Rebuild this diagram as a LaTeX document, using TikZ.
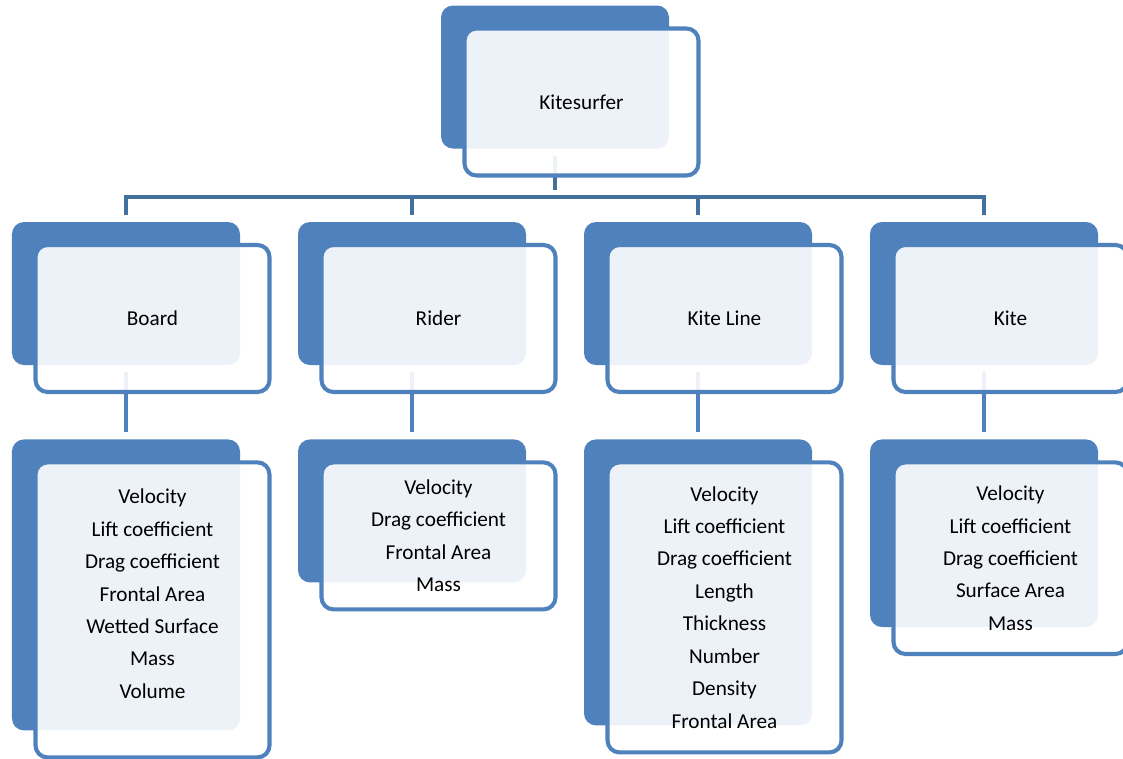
\documentclass[tikz,border=0pt]{standalone}
\usepackage{fontspec}
\setmainfont{Carlito}
\usetikzlibrary{positioning}
\definecolor{kiteblue}{HTML}{4F81BD}
\definecolor{bardark}{HTML}{41719C}

\begin{document}
\begin{tikzpicture}[backbox/.style={rectangle, rounded corners=0.3cm, fill=kiteblue, outer sep=0pt, minimum width=5.7cm, minimum height=3.575cm},
        frontbox/.style={rectangle, rounded corners=0.3cm, draw=kiteblue, line width=2.9pt, fill=white, fill opacity=0.9, text opacity=1, minimum width=5.85cm, minimum height=3.675cm, align=center, font=\fontsize{15.1}{23.1}\selectfont, xshift=0.6625cm, yshift=-0.625cm},
        barline/.style={draw=bardark, line width=3pt, shorten <=0.175cm, shorten >=0.175cm},
        stemline/.style={draw=kiteblue, line width=3pt, shorten <=0.175cm, shorten >=0.175cm}]

        \useasboundingbox (0,0) rectangle (28.075,-18.95);

        % back boxes
        \node[backbox] (b0) at (13.875,-1.925) {};
        \node[backbox] (b1) at (3.15,-7.3375) {};
        \node[backbox] (b2) [right=1.45cm of b1] {};
        \node[backbox] (b3) [right=1.45cm of b2] {};
        \node[backbox] (b4) [right=1.45cm of b3] {};
        \node[backbox, minimum height=7.275cm] (b5) [below=1.86cm of b1] {};
        \node[backbox] (b6) [below=1.86cm of b2] {};
        \node[backbox, minimum height=7.15cm] (b7) [below=1.86cm of b3] {};
        \node[backbox, minimum height=4.69cm] (b8) [below=1.86cm of b4] {};

        % connectors
        \coordinate (hub) at (13.875,-4.925);
        \draw[barline] (b0.south) -- (hub);
        \draw[barline, shorten >=0cm] (b1.north) |- (hub);
        \draw[barline, shorten >=0cm] (b2.north) |- (hub);
        \draw[barline, shorten >=0cm] (b3.north) |- (hub);
        \draw[barline, shorten >=0cm] (b4.north) |- (hub);
        \draw[stemline] (b1.south) -- (b5.north);
        \draw[stemline] (b2.south) -- (b6.north);
        \draw[stemline] (b3.south) -- (b7.north);
        \draw[stemline] (b4.south) -- (b8.north);

        % front boxes
        \node[frontbox] (f0) at (b0) {Kitesurfer};
        \node[frontbox] (f1) at (b1) {Board};
        \node[frontbox] (f2) at (b2) {Rider};
        \node[frontbox] (f3) at (b3) {Kite Line};
        \node[frontbox] (f4) at (b4) {Kite};
        \node[frontbox, minimum height=7.375cm] (f5) at (b5) {Velocity\\Lift coefficient\\Drag coefficient\\Frontal Area\\Wetted Surface\\Mass\\Volume\\{}};
        \node[frontbox] (f6) at (b6) {Velocity\\Drag coefficient\\Frontal Area\\Mass};
        \node[frontbox, minimum height=7.25cm] (f7) at (b7) {Velocity\\Lift coefficient\\Drag coefficient\\Length\\Thickness\\Number\\Density\\Frontal Area};
        \node[frontbox, minimum height=4.79cm] (f8) at (b8) {Velocity\\Lift coefficient\\Drag coefficient\\Surface Area\\Mass};

\end{tikzpicture}
\end{document}
